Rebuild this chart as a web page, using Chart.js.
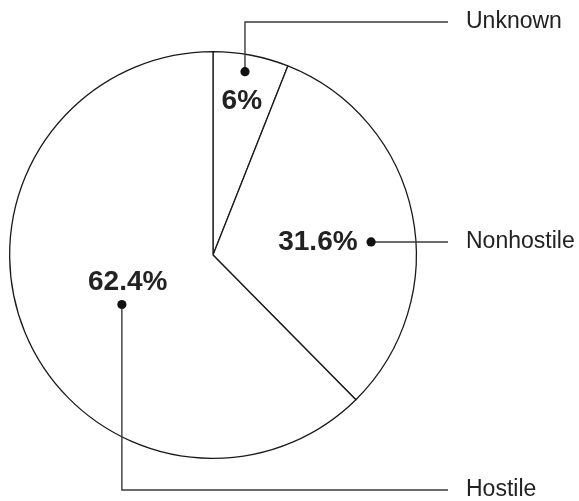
<!DOCTYPE html>
<html>
<head>
<meta charset="utf-8">
<script src="https://cdn.jsdelivr.net/npm/chart.js@4/dist/chart.umd.min.js"></script>
<style>
  html, body { margin: 0; padding: 0; background: #ffffff; }
  #wrap { width: 579px; height: 501px; position: relative; }
</style>
</head>
<body>
<div id="wrap"><canvas id="c"></canvas></div>
<script>
// Share of casualties by category (percent)
const categories = ['Unknown', 'Nonhostile', 'Hostile'];
const shares = [6, 31.6, 62.4];

// Callout placement inside each slice: angle shift (degrees) from the slice's
// middle and fraction of the radius, plus the way the leader line runs out.
const calloutPlacement = [
  { label: { da: -0.2, rf: 0.77 }, dot: { da: -0.9, rf: 0.915 }, route: 'up' },
  { label: { da: 4.4, rf: 0.52 },  dot: { da: 6.8, rf: 0.78 },   route: 'side' },
  { label: { da: 4.7, rf: 0.44 },  dot: { da: -6.2, rf: 0.51 },  route: 'down' }
];

const INK = '#222222';
const LEADER = '#3a3a3a';
const deg = Math.PI / 180;

function polar(arc, p) {
  const a = (arc.startAngle + arc.endAngle) / 2 + p.da * deg;
  const r = arc.outerRadius * p.rf;
  return { x: arc.x + Math.cos(a) * r, y: arc.y + Math.sin(a) * r };
}

const callouts = {
  id: 'callouts',
  afterDatasetsDraw(chart) {
    const ctx = chart.ctx;
    const area = chart.chartArea;
    const meta = chart.getDatasetMeta(0);
    const gap = 30;
    const lineEndX = area.right + 31;
    const nameX = lineEndX + 18;

    meta.data.forEach((arc, i) => {
      const place = calloutPlacement[i];
      const lp = polar(arc, place.label);
      const dp = polar(arc, place.dot);

      // percentage label
      ctx.save();
      ctx.fillStyle = INK;
      ctx.font = 'bold 28px "Liberation Sans", Arial, sans-serif';
      ctx.textAlign = 'center';
      ctx.textBaseline = 'middle';
      ctx.fillText(shares[i] + '%', lp.x, lp.y);

      // leader line
      ctx.strokeStyle = LEADER;
      ctx.lineWidth = 1.4;
      ctx.beginPath();
      ctx.moveTo(dp.x, dp.y);
      let endY = dp.y;
      if (place.route === 'up') {
        endY = area.top - gap + 1;
        ctx.lineTo(dp.x, endY);
      } else if (place.route === 'down') {
        endY = area.bottom + gap + 1;
        ctx.lineTo(dp.x, endY);
      }
      ctx.lineTo(lineEndX, endY);
      ctx.stroke();

      // dot
      ctx.fillStyle = '#111111';
      ctx.beginPath();
      ctx.arc(dp.x, dp.y, 4.6, 0, Math.PI * 2);
      ctx.fill();

      // category name
      ctx.fillStyle = INK;
      ctx.font = '23px "Liberation Sans", Arial, sans-serif';
      ctx.textAlign = 'left';
      ctx.fillText(categories[i], nameX, endY);
      ctx.restore();
    });
  }
};

new Chart(document.getElementById('c'), {
  type: 'pie',
  data: {
    labels: categories,
    datasets: [{
      data: shares,
      backgroundColor: '#ffffff',
      borderColor: '#1a1a1a',
      borderWidth: 1.3,
      borderAlign: 'center'
    }]
  },
  options: {
    responsive: true,
    maintainAspectRatio: false,
    animation: false,
    layout: { padding: { left: 9, right: 162, top: 51, bottom: 42 } },
    plugins: {
      legend: { display: false },
      tooltip: { enabled: false }
    }
  },
  plugins: [callouts]
});
</script>
</body>
</html>
